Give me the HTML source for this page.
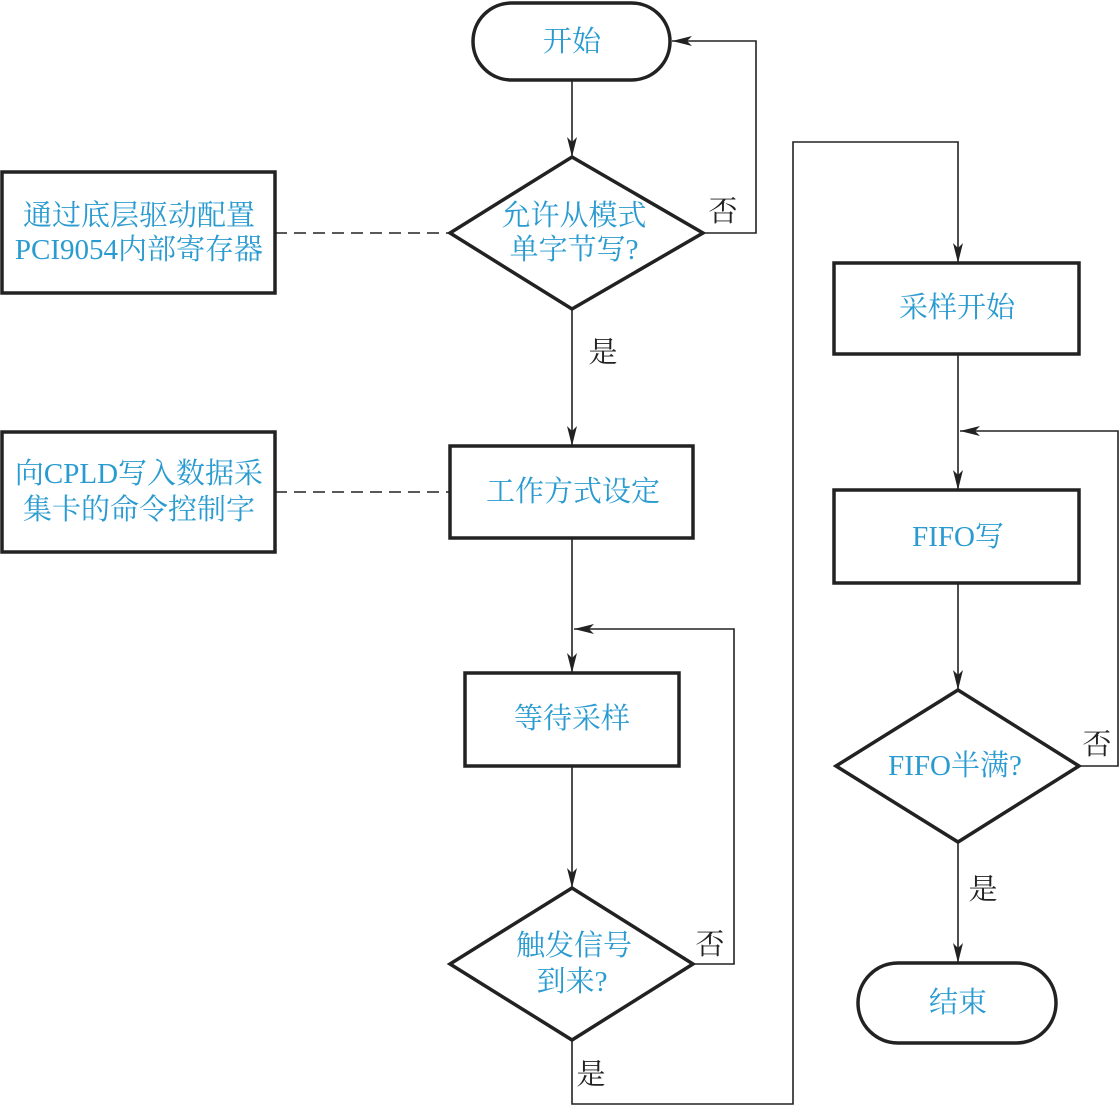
<!DOCTYPE html>
<html><head><meta charset="utf-8"><style>
html,body{margin:0;padding:0;background:#fff}
svg{display:block}
text{font-family:"Liberation Serif","Noto Serif CJK SC",serif;font-size:29px;fill:#2a9bd0;text-anchor:middle;dominant-baseline:central}
text.k{fill:#222}
</style></head><body>
<svg width="1119" height="1105" viewBox="0 0 1119 1105" xmlns="http://www.w3.org/2000/svg">
<defs>
<marker id="a" viewBox="0 0 20 10" refX="20" refY="5" markerWidth="20" markerHeight="10" markerUnits="userSpaceOnUse" orient="auto">
<path d="M0,0 L20,5 L0,10 L5,5 Z" fill="#222"/>
</marker>
</defs>
<g fill="none" stroke="#222" stroke-width="3.5">
<rect x="473" y="3" width="197" height="77" rx="38.5"/>
<polygon points="572,157 703,233 572,309 450,233"/>
<rect x="2" y="172" width="273" height="121"/>
<rect x="450" y="446" width="243" height="92"/>
<rect x="2" y="432" width="273" height="120"/>
<rect x="465" y="673" width="214" height="93"/>
<polygon points="572,888 693,964 572,1040 450,964"/>
<rect x="834" y="263" width="245" height="91"/>
<rect x="834" y="490" width="245" height="93"/>
<polygon points="958,690 1079,766 958,842 836,766"/>
<rect x="858" y="963" width="198" height="80" rx="40"/>
</g>
<g fill="none" stroke="#222" stroke-width="1.6">
<line x1="572" y1="80" x2="572" y2="157" marker-end="url(#a)"/>
<polyline points="703,233 756,233 756,41 672,41" marker-end="url(#a)"/>
<line x1="572" y1="309" x2="572" y2="446" marker-end="url(#a)"/>
<line x1="572" y1="538" x2="572" y2="673" marker-end="url(#a)"/>
<polyline points="693,964 734,964 734,629 574,629" marker-end="url(#a)"/>
<line x1="572" y1="766" x2="572" y2="888" marker-end="url(#a)"/>
<polyline points="572,1040 572,1104 793,1104 793,142 958,142 958,263" marker-end="url(#a)"/>
<line x1="958" y1="354" x2="958" y2="490" marker-end="url(#a)"/>
<line x1="958" y1="583" x2="958" y2="690" marker-end="url(#a)"/>
<polyline points="1079,766 1118,766 1118,431 960,431" marker-end="url(#a)"/>
<line x1="958" y1="842" x2="958" y2="963" marker-end="url(#a)"/>
<line x1="275" y1="233" x2="450" y2="233" stroke-dasharray="12,7"/>
<line x1="275" y1="492" x2="450" y2="492" stroke-dasharray="12,7"/>
</g>
<text x="572" y="42">开始</text>
<text x="574" y="216">允许从模式</text>
<text x="574" y="250">单字节写?</text>
<text x="139" y="216">通过底层驱动配置</text>
<text x="139" y="250">PCI9054内部寄存器</text>
<text x="573" y="492">工作方式设定</text>
<text x="139" y="474">向CPLD写入数据采</text>
<text x="139" y="510">集卡的命令控制字</text>
<text x="572" y="719">等待采样</text>
<text x="574" y="946">触发信号</text>
<text x="572" y="982">到来?</text>
<text x="957" y="308">采样开始</text>
<text x="958" y="537">FIFO写</text>
<text x="955" y="766">FIFO半满?</text>
<text x="958" y="1003">结束</text>
<text class="k" x="723" y="212">否</text>
<text class="k" x="603" y="353">是</text>
<text class="k" x="710" y="945">否</text>
<text class="k" x="591" y="1075">是</text>
<text class="k" x="1097" y="745">否</text>
<text class="k" x="983" y="890">是</text>
</svg>
</body></html>
